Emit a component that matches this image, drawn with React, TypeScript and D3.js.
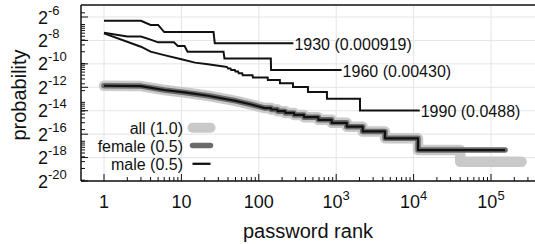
import React from 'react';
import * as d3 from 'd3';

// rank / probability breakpoints
const ranks1930 = [1, 3, 4, 5, 6, 26, 27, 280];
const probs1930 = [0.0125, 0.0125, 0.0098, 0.0098, 0.0064, 0.0064, 0.0033, 0.0033];

const ranks1960 = [1, 2, 3, 4, 5, 8, 9, 11, 12, 35, 36, 143, 144, 1175];
const probs1960 = [0.00617, 0.00491, 0.00491, 0.0041, 0.00349, 0.00349, 0.0028, 0.0028, 0.00201, 0.00201, 0.00135, 0.00135, 0.000678, 0.000678];

const ranks1990 = [1, 3, 4, 6, 10, 15, 22, 37, 39, 40, 43, 44, 49, 50, 54, 55, 61, 62, 83, 84, 130, 131, 187, 188, 276, 277, 431, 432, 759, 760, 2029, 2030, 12000];
const probs1990 = [0.00595, 0.00269, 0.00201, 0.00164, 0.00128, 0.00105, 0.000951, 0.000827, 0.000807, 0.000745, 0.000745, 0.000683, 0.000683, 0.000621, 0.000621, 0.000559, 0.000559, 0.000497, 0.000497, 0.000435, 0.000435, 0.000373, 0.000373, 0.000311, 0.000311, 0.000248, 0.000248, 0.000186, 0.000186, 0.000124, 0.000124, 0.0000621, 0.0000621];

// female and male lie on top of each other
const genderRanks = [1, 3, 6, 11, 22, 52, 80, 120, 144, 145, 174, 175, 219, 220, 285, 286, 383, 384, 587, 588, 874, 875, 1369, 1370, 2199, 2200, 4269, 4270, 11399, 11400, 152000];
const genderProbs = [0.000267, 0.000262, 0.000208, 0.00018, 0.000148, 0.000108, 0.000088, 0.0000714, 0.0000714, 0.0000655, 0.0000655, 0.0000595, 0.0000595, 0.0000536, 0.0000536, 0.0000476, 0.0000476, 0.0000417, 0.0000417, 0.0000357, 0.0000357, 0.0000298, 0.0000298, 0.0000238, 0.0000238, 0.0000179, 0.0000179, 0.0000119, 0.0000119, 0.00000595, 0.00000595];

const allRanks = [1, 3, 6, 11, 22, 52, 80, 120, 144, 145, 174, 175, 219, 220, 285, 286, 383, 384, 587, 588, 874, 875, 1369, 1370, 2199, 2200, 4269, 4270, 11399, 11400, 39999, 40000, 248000];
const allProbs = [0.000267, 0.000262, 0.000208, 0.00018, 0.000148, 0.000108, 0.000088, 0.0000714, 0.0000714, 0.0000655, 0.0000655, 0.0000595, 0.0000595, 0.0000536, 0.0000536, 0.0000476, 0.0000476, 0.0000417, 0.0000417, 0.0000357, 0.0000357, 0.0000298, 0.0000298, 0.0000238, 0.0000238, 0.0000179, 0.0000179, 0.0000119, 0.0000119, 0.00000595, 0.00000595, 0.00000298, 0.00000298];

const cohortLabels = ['1930 (0.000919)', '1960 (0.00430)', '1990 (0.0488)'];
const legendLabels = ['all (1.0)', 'female (0.5)', 'male (0.5)'];

const xTickValues = [1, 10, 100, 1e3, 1e4, 1e5];
const xTickLabels = [['1', ''], ['10', ''], ['100', ''], ['10', '3'], ['10', '4'], ['10', '5']];
const yTickExps = [-6, -8, -10, -12, -14, -16, -18, -20];

const W = 535;
const H = 244;
const left = 81, top = 5, bottom = 181;
const font = '"Liberation Sans", Arial, Helvetica, sans-serif';

const App = () => {
  const x = d3.scaleLog().domain([1, 1e5]).range([104, 491]);
  const y = d3.scaleLog().base(2).domain([2 ** -20, 2 ** -6]).range([181, 17]);

  const line = d3.line<[number, number]>()
    .x(d => x(d[0]))
    .y(d => y(d[1]));
  const path = (rs: number[], ps: number[]) => line(rs.map((r, i) => [r, ps[i]]));

  const xMinor = d3.range(0, 6)
    .flatMap(n => d3.range(2, 10).map(k => k * 10 ** n))
    .filter(v => x(v) < W);
  const yMinor = d3.range(-7, -1)
    .flatMap(n => d3.range(1, 10).map(k => k * 10 ** n))
    .filter(v => y(v) <= bottom && y(v) >= top + 2);

  const cohorts = [
    { r: ranks1930, p: probs1930 },
    { r: ranks1960, p: probs1960 },
    { r: ranks1990, p: probs1990 },
  ];

  const legendY = [127.7, 145.5, 163.8];
  const legendStyle = [
    { stroke: '#c9c9c9', w: 10 },
    { stroke: '#6b6b6b', w: 5.5 },
    { stroke: '#111', w: 2.3 },
  ];

  return (
    <svg width={W} height={H} style={{ position: 'fixed', left: 0, top: 0, background: '#fff' }} fontFamily={font}>
      {/* grid */}
      {xTickValues.map(v => (
        <line key={'gx' + v} x1={x(v)} x2={x(v)} y1={top} y2={bottom} stroke="#e4e4e4" strokeWidth={1} />
      ))}
      {yTickExps.map(e => (
        <line key={'gy' + e} x1={left} x2={W} y1={y(2 ** e)} y2={y(2 ** e)} stroke="#e4e4e4" strokeWidth={1} />
      ))}

      {/* aggregate series */}
      <path d={path(allRanks, allProbs) || ''} fill="none" stroke="#c9c9c9" strokeWidth={10.5} strokeLinejoin="round" strokeLinecap="round" />
      <path d={path(genderRanks, genderProbs) || ''} fill="none" stroke="#6b6b6b" strokeWidth={5.5} strokeLinejoin="round" strokeLinecap="round" />
      <path d={path(genderRanks, genderProbs) || ''} fill="none" stroke="#111" strokeWidth={2.2} strokeLinejoin="round" />

      {/* birth cohorts */}
      {cohorts.map((c, i) => {
        const n = c.r.length - 1;
        return (
          <g key={'c' + i}>
            <path d={path(c.r, c.p) || ''} fill="none" stroke="#111" strokeWidth={2} strokeLinejoin="miter" />
            <text x={x(c.r[n]) + 1} y={y(c.p[n]) + 6.5} fontSize={16} fill="#111">{cohortLabels[i]}</text>
          </g>
        );
      })}

      {/* frame and axes */}
      <line x1={left} x2={W} y1={top} y2={top} stroke="#111" strokeWidth={1.5} />
      <line x1={left} x2={left} y1={top} y2={bottom} stroke="#111" strokeWidth={1.5} />
      <line x1={left} x2={W} y1={bottom} y2={bottom} stroke="#111" strokeWidth={1.5} />

      {xMinor.map(v => (
        <line key={'xm' + v} x1={x(v)} x2={x(v)} y1={bottom} y2={bottom - 4} stroke="#111" strokeWidth={1} />
      ))}
      {xTickValues.map((v, i) => (
        <g key={'xt' + v}>
          <line x1={x(v)} x2={x(v)} y1={bottom} y2={bottom - 7} stroke="#111" strokeWidth={1} />
          <text x={x(v)} y={207.5} fontSize={18} textAnchor="middle" fill="#111">
            {xTickLabels[i][0]}
            {xTickLabels[i][1] && <tspan dy={-8} fontSize={13}>{xTickLabels[i][1]}</tspan>}
          </text>
        </g>
      ))}

      {yMinor.map(v => (
        <line key={'ym' + v} x1={left} x2={left + 4} y1={y(v)} y2={y(v)} stroke="#111" strokeWidth={1} />
      ))}
      {yTickExps.map(e => (
        <g key={'yt' + e}>
          <line x1={left} x2={left + 7} y1={y(2 ** e)} y2={y(2 ** e)} stroke="#111" strokeWidth={1} />
          <text x={38} y={y(2 ** e) + 6.5} fontSize={18} fill="#111">
            2<tspan dy={-9} fontSize={13}>{String(e)}</tspan>
          </text>
        </g>
      ))}

      <text transform="translate(26,95) rotate(-90)" fontSize={20} textAnchor="middle" fill="#111">probability</text>
      <text x={308} y={238} fontSize={20} textAnchor="middle" fill="#111">password rank</text>

      {/* legend */}
      {legendLabels.map((l, i) => (
        <g key={'lg' + i}>
          <text x={183} y={legendY[i] + 6} fontSize={16} textAnchor="end" fill="#111">{l}</text>
          <line x1={192.5} x2={210.5} y1={legendY[i]} y2={legendY[i]} stroke={legendStyle[i].stroke}
            strokeWidth={legendStyle[i].w} strokeLinecap={i < 2 ? 'round' : 'butt'} />
        </g>
      ))}
    </svg>
  );
};

export default App;
